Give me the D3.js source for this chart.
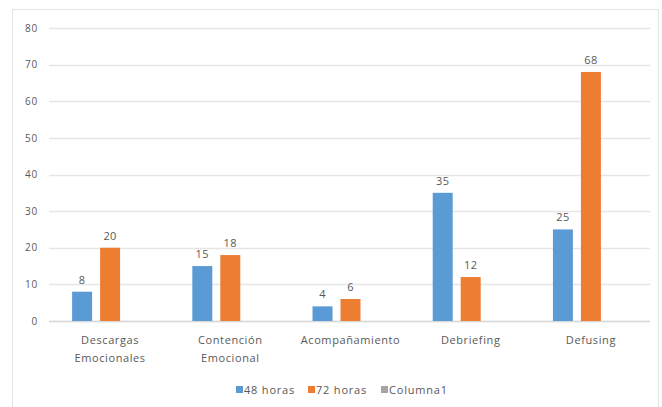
<!DOCTYPE html>
<html>
<head>
<meta charset="utf-8">
<script src="https://cdn.jsdelivr.net/npm/d3@7"></script>
<style>
  html, body { margin: 0; padding: 0; background: #fff; }
  svg { display: block; }
  text { font-family: "Open Sans", "Liberation Sans", sans-serif; fill: #595959; }
</style>
</head>
<body>
<svg id="chart" width="662" height="407"></svg>
<script>
const categories = [["Descargas", "Emocionales"], ["Contención", "Emocional"], ["Acompañamiento"], ["Debriefing"], ["Defusing"]];
const seriesNames = ["48 horas", "72 horas", "Columna1"];
const horas48 = [8, 15, 4, 35, 25];
const horas72 = [20, 18, 6, 12, 68];
const columna1 = [null, null, null, null, null];
const yTicks = [0, 10, 20, 30, 40, 50, 60, 70, 80];
const colors = ["#5B9BD5", "#ED7D31", "#A5A5A5"];

const svg = d3.select("#chart");
const catKeys = categories.map(c => c.join(" "));
const seriesValues = [horas48, horas72, columna1];

// chart border
svg.append("rect").attr("x", 12.5).attr("y", 9.5).attr("width", 646).attr("height", 402)
  .attr("fill", "none").attr("stroke", "#e3e3e3");

const x0 = d3.scaleBand().domain(catKeys).range([50, 651]).paddingInner(0.368).paddingOuter(0.184);
const x1 = d3.scaleBand().domain(seriesNames).range([0, x0.bandwidth()]).paddingInner(0.286).paddingOuter(0);
const y = d3.scaleLinear().domain([0, 80]).range([321, 28]);

// gridlines
svg.append("g").selectAll("line").data(yTicks).join("line")
  .attr("x1", 49).attr("x2", 650)
  .attr("y1", d => Math.round(y(d)) + 0.5).attr("y2", d => Math.round(y(d)) + 0.5)
  .attr("stroke", "#e6e6e6").attr("stroke-width", 1.3);

// y axis labels
const yAxis = d3.axisLeft(y).tickValues(yTicks).tickSize(0).tickPadding(0);
const yg = svg.append("g").attr("transform", "translate(38,0)").call(yAxis);
yg.select(".domain").remove();
yg.selectAll("text").style("font-size", "10px").style("letter-spacing", "0.8px")
  .attr("fill", "#595959").attr("font-family", null);

// x axis line
svg.append("line").attr("x1", 49).attr("x2", 650).attr("y1", Math.round(y(0)) + 0.5).attr("y2", Math.round(y(0)) + 0.5)
  .attr("stroke", "#d9d9d9").attr("stroke-width", 1.3);

// bars
const groups = svg.append("g").selectAll("g").data(catKeys).join("g")
  .attr("transform", d => `translate(${x0(d)},0)`);

groups.each(function(cat, i) {
  const g = d3.select(this);
  seriesNames.forEach((s, j) => {
    const v = seriesValues[j][i];
    if (v == null) return;
    g.append("rect")
      .attr("x", x1(s)).attr("width", x1.bandwidth())
      .attr("y", y(v)).attr("height", y(0) - y(v))
      .attr("fill", colors[j]);
    g.append("text")
      .attr("x", x1(s) + x1.bandwidth() / 2).attr("y", y(v) - 8)
      .attr("text-anchor", "middle").style("font-size", "11px").style("letter-spacing", "0.4px")
      .text(v);
  });
});

// category labels
const xl = svg.append("g");
categories.forEach((lines, i) => {
  const cx = x0(catKeys[i]) + x0.bandwidth() / 2;
  const t = xl.append("text").attr("text-anchor", "middle").style("font-size", "11px").style("letter-spacing", "0.6px");
  lines.forEach((ln, k) => {
    t.append("tspan").attr("x", cx).attr("y", 344 + k * 18).text(ln);
  });
});

// legend
const legX = [236, 308, 381];
const leg = svg.append("g");
seriesNames.forEach((s, j) => {
  leg.append("rect").attr("x", legX[j]).attr("y", 386).attr("width", 7).attr("height", 7).attr("fill", colors[j]);
  leg.append("text").attr("x", legX[j] + 8).attr("y", 393.5).style("font-size", "11px").style("letter-spacing", "0.8px").text(s);
});
</script>
</body>
</html>
